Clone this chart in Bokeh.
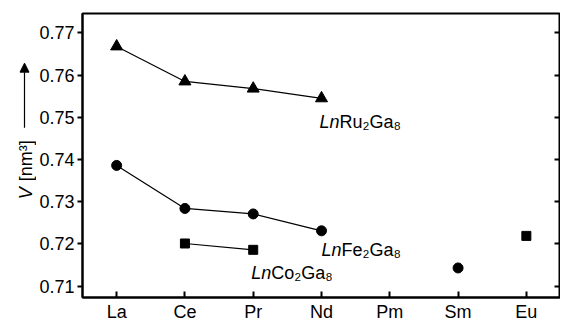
import numpy as np
from bokeh.plotting import figure
from bokeh.layouts import row
from bokeh.models import (Range1d, FixedTicker, LinearAxis, Label, Arrow,
                          NormalHead, ColumnDataSource)
from bokeh.embed import file_html
from bokeh.resources import INLINE

# ---- data ----
elements = ["La", "Ce", "Pr", "Nd", "Pm", "Sm", "Eu"]
nan = float("nan")
ru_v = [0.7668, 0.7585, 0.7568, 0.7545, nan, nan, nan]
fe_v = [0.7386, 0.7284, 0.7271, 0.7231, nan, 0.7143, nan]
co_v = [nan, 0.7201, 0.7186, nan, nan, nan, 0.7219]
y_ticks = [0.71, 0.72, 0.73, 0.74, 0.75, 0.76, 0.77]

xs = list(range(len(elements)))
FONT = "Liberation Sans"
FS = "18px"
H = 322
LW = 36

p = figure(frame_width=478, frame_height=284, output_backend="svg",
           toolbar_location=None,
           x_range=Range1d(-0.5, 6.5), y_range=Range1d(0.7073, 0.7746),
           min_border_left=46, min_border_top=13, min_border_right=0,
           min_border_bottom=0)
p.background_fill_color = "white"
p.border_fill_color = "white"
p.grid.visible = False
p.outline_line_color = "black"
p.outline_line_width = 2

xa = p.xaxis[0]
xa.ticker = FixedTicker(ticks=xs)
xa.major_label_overrides = {i: e for i, e in enumerate(elements)}
xa.major_tick_in = 6
xa.major_tick_out = 0
xa.minor_tick_line_color = None
xa.axis_line_width = 2
xa.major_tick_line_width = 2
xa.major_label_text_font = FONT
xa.major_label_text_font_size = FS
xa.major_label_text_color = "black"
xa.major_label_standoff = 4

ya = p.yaxis[0]
ya.ticker = FixedTicker(ticks=y_ticks)
ya.major_label_overrides = {t: f"{t:.2f}" for t in y_ticks}
ya.major_tick_in = 0
ya.major_tick_out = 5
ya.minor_tick_line_color = None
ya.axis_line_width = 2
ya.major_tick_line_width = 2
ya.major_label_text_font = FONT
ya.major_label_text_font_size = FS
ya.major_label_text_color = "black"
ya.major_label_standoff = 3

ra = LinearAxis(ticker=FixedTicker(ticks=y_ticks))
ra.major_label_overrides = {t: "" for t in y_ticks}
ra.major_tick_in = 6
ra.major_tick_out = 0
ra.minor_tick_line_color = None
ra.axis_line_width = 2
ra.major_tick_line_width = 2
ra.major_label_text_font_size = "1px"
ra.major_label_standoff = 0
p.add_layout(ra, "right")

src = ColumnDataSource(dict(x=xs, ru=ru_v, fe=fe_v, co=co_v))

for col, marker, size in [("ru", "triangle", 12), ("fe", "circle", 10), ("co", "square", 9)]:
    p.line("x", col, source=src, line_color="black", line_width=1.2)
    p.scatter("x", col, source=src, marker=marker, size=size,
              fill_color="black", line_color="black")

def series_label(x, y, x_off, metal):
    p.add_layout(Label(x=x, y=y, x_offset=x_off, text="Ln", text_font=FONT,
                       text_font_style="italic", text_font_size=FS,
                       text_color="black", text_baseline="alphabetic"))
    p.add_layout(Label(x=x, y=y, x_offset=x_off + 20, text=metal + "\u2082Ga\u2088",
                       text_font=FONT, text_font_size=FS,
                       text_color="black", text_baseline="alphabetic"))

series_label(3, 0.7490, -2, "Ru")
series_label(3, 0.7185, 0, "Fe")
series_label(2, 0.7131, -2, "Co")

# ---- left strip carrying the rotated y-axis title and its arrow ----
# its frame is aligned with the main frame (screen y 13..297); flipped range
# so that the strip's y values read as page pixels from the top
lab = figure(width=LW, height=H, output_backend="svg", toolbar_location=None,
             x_range=Range1d(0, LW), y_range=Range1d(297, 13),
             min_border=0)
lab.axis.visible = False
lab.grid.visible = False
lab.outline_line_color = None
lab.background_fill_color = "white"
lab.border_fill_color = "white"

lab.add_layout(Label(x=25, y=200, text="V",
                     text_font=FONT, text_font_style="italic", text_font_size=FS,
                     angle=np.pi / 2, text_align="left", text_baseline="middle",
                     text_color="black"))
lab.add_layout(Label(x=25, y=182, text="[nm\u00b3]",
                     text_font=FONT, text_font_size=FS,
                     angle=np.pi / 2, text_align="left", text_baseline="middle",
                     text_color="black"))
lab.add_layout(Arrow(x_start=24, y_start=128, x_end=24, y_end=63,
                     line_color="black", line_width=1.2,
                     end=NormalHead(size=9, fill_color="black", line_color="black")))

layout = row(lab, p)
open("out.html", "w").write(file_html(layout, INLINE))
